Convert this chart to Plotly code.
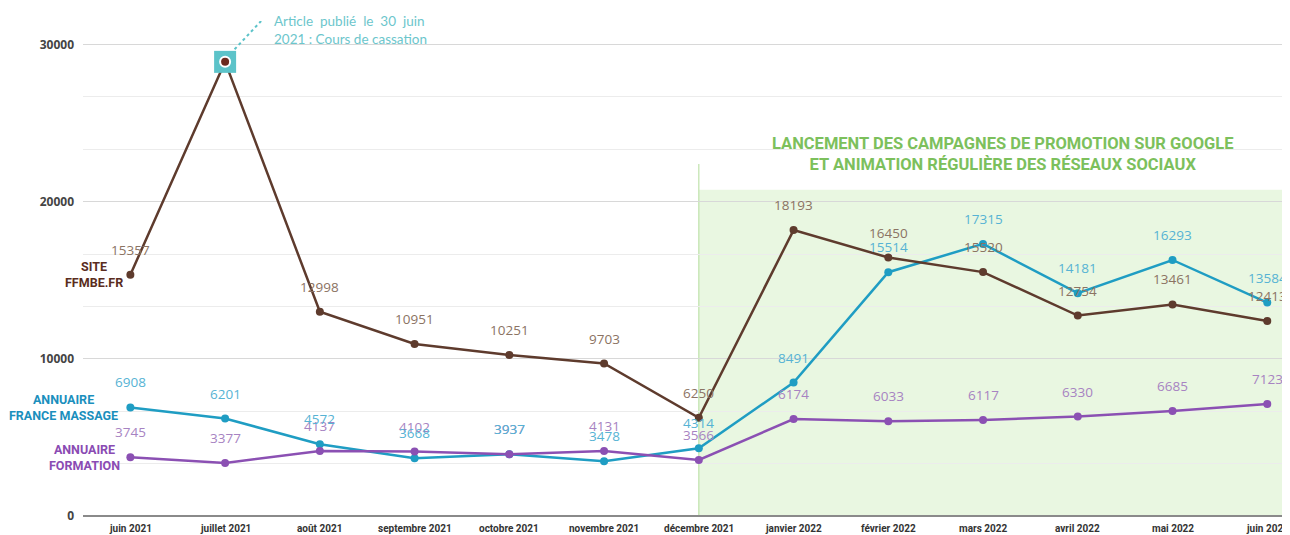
import plotly.graph_objects as go

months = ["juin 2021", "juillet 2021", "août 2021", "septembre 2021", "octobre 2021",
          "novembre 2021", "décembre 2021", "janvier 2022", "février 2022", "mars 2022",
          "avril 2022", "mai 2022", "juin 2022"]
site_ffmbe = [15357, 28900, 12998, 10951, 10251, 9703, 6250, 18193, 16450, 15520, 12754, 13461, 12413]
annuaire_massage = [6908, 6201, 4572, 3668, 3937, 3478, 4314, 8491, 15514, 17315, 14181, 16293, 13584]
annuaire_formation = [3745, 3377, 4137, 4102, 3937, 4131, 3566, 6174, 6033, 6117, 6330, 6685, 7123]
y_ticks = [0, 10000, 20000, 30000]

series = [
    ("SITE<br>FFMBE.FR", site_ffmbe, "#5e3b2d", "#8b7363", "#5a2c20", -5),
    ("ANNUAIRE<br>FORMATION", annuaire_formation, "#8b50b3", "#a783c2", "#8a4bb3", -8),
    ("ANNUAIRE<br>FRANCE MASSAGE", annuaire_massage, "#1f9dc3", "#56b3d4", "#1b8fbd", -10),
]

BOLD_FONT = "Roboto, sans-serif"
LABEL_FONT = "Open Sans, sans-serif"

fig = go.Figure()

annotations = []
for name, vals, lc, tc, nc, xs in series[::-1]:
    fig.add_trace(go.Scatter(x=months, y=vals, mode="lines+markers",
                             line=dict(color=lc, width=2.5),
                             marker=dict(size=8, color=lc),
                             showlegend=False, name=name.replace("<br>", " ")))

# callout marker on the July peak
fig.add_trace(go.Scatter(x=[months[1]], y=[site_ffmbe[1]], mode="markers",
                         marker=dict(symbol="square", size=22, color="#5cc3c9"),
                         hoverinfo="skip", showlegend=False))
fig.add_trace(go.Scatter(x=[months[1]], y=[site_ffmbe[1]], mode="markers",
                         marker=dict(symbol="circle", size=14, color="white",
                                     line=dict(color="#5cc3c9", width=2)),
                         hoverinfo="skip", showlegend=False))
fig.add_trace(go.Scatter(x=[months[1]], y=[site_ffmbe[1]], mode="markers",
                         marker=dict(symbol="circle", size=8, color="#6b2a1e"),
                         hoverinfo="skip", showlegend=False))

for name, vals, lc, tc, nc, xs in series:
    for i, (m, v) in enumerate(zip(months, vals)):
        if vals is site_ffmbe and i == 1:
            continue
        annotations.append(dict(x=m, y=v, text=str(v), showarrow=False, yshift=25,
                                font=dict(family=LABEL_FONT, size=13.5, color=tc)))
    annotations.append(dict(x=months[0], y=vals[0], text="<b>%s</b>" % name, showarrow=False,
                            xanchor="right", yanchor="middle", xshift=xs, align="center",
                            font=dict(family=BOLD_FONT, size=12.5, color=nc)))

for m in months:
    annotations.append(dict(x=m, y=0, xref="x", yref="paper", text="<b>%s</b>" % m,
                            showarrow=False, yanchor="middle", yshift=-12,
                            font=dict(family=BOLD_FONT, size=10, color="#333")))

annotations.append(dict(x=9.21, y=23050, xref="x", yref="y", showarrow=False,
                        text="<b>LANCEMENT DES CAMPAGNES DE PROMOTION SUR GOOGLE<br>ET ANIMATION RÉGULIÈRE DES RÉSEAUX SOCIAUX</b>",
                        font=dict(family=BOLD_FONT, size=16.5, color="#7cc05c"), align="center"))
annotations.append(dict(x=1.5, y=30950, xref="x", yref="y", showarrow=False, xanchor="left",
                        yanchor="middle", align="left",
                        text="Article  publié  le  30  juin<br>2021 : Cours de cassation",
                        font=dict(family="Lato, Open Sans, sans-serif", size=13.5, color="#6cc6cc")))

shapes = [
    dict(type="rect", xref="x", yref="y", x0=6, x1=12.3, y0=0, y1=20760,
         fillcolor="rgba(200,235,180,0.4)", line=dict(width=0), layer="below"),
    dict(type="line", xref="x", yref="y", x0=6, x1=6, y0=0, y1=22400,
         line=dict(color="#bfe2ab", width=1.2), layer="below"),
    dict(type="line", xref="x", yref="y", x0=1.1, x1=1.38, y0=29700, y1=31500,
         line=dict(color="#5cc3c9", width=2, dash="dot")),
]

fig.update_layout(
    width=1282, height=527,
    margin=dict(l=75, r=0, t=13, b=19),
    plot_bgcolor="white", paper_bgcolor="white",
    annotations=annotations, shapes=shapes,
    xaxis=dict(type="category", categoryorder="array", categoryarray=months,
               range=[-0.5, 12.24], showgrid=False, zeroline=False,
               showline=False, ticks="", showticklabels=False),
    yaxis=dict(range=[0, 31500], tickvals=y_ticks, ticktext=[str(v) for v in y_ticks],
               showgrid=True,
               gridcolor="#d8d8d8", gridwidth=1, zeroline=True, zerolinecolor="#8a8a8a",
               zerolinewidth=2, ticks="", ticklabelstandoff=8,
               tickfont=dict(family="Open Sans, sans-serif", size=12, color="#444", weight="bold"),
               minor=dict(tickvals=[10000/3, 20000/3, 40000/3, 50000/3, 70000/3, 80000/3],
                          showgrid=True, gridcolor="#ececec", gridwidth=1)),
    showlegend=False,
)

fig.write_html("out.html")
